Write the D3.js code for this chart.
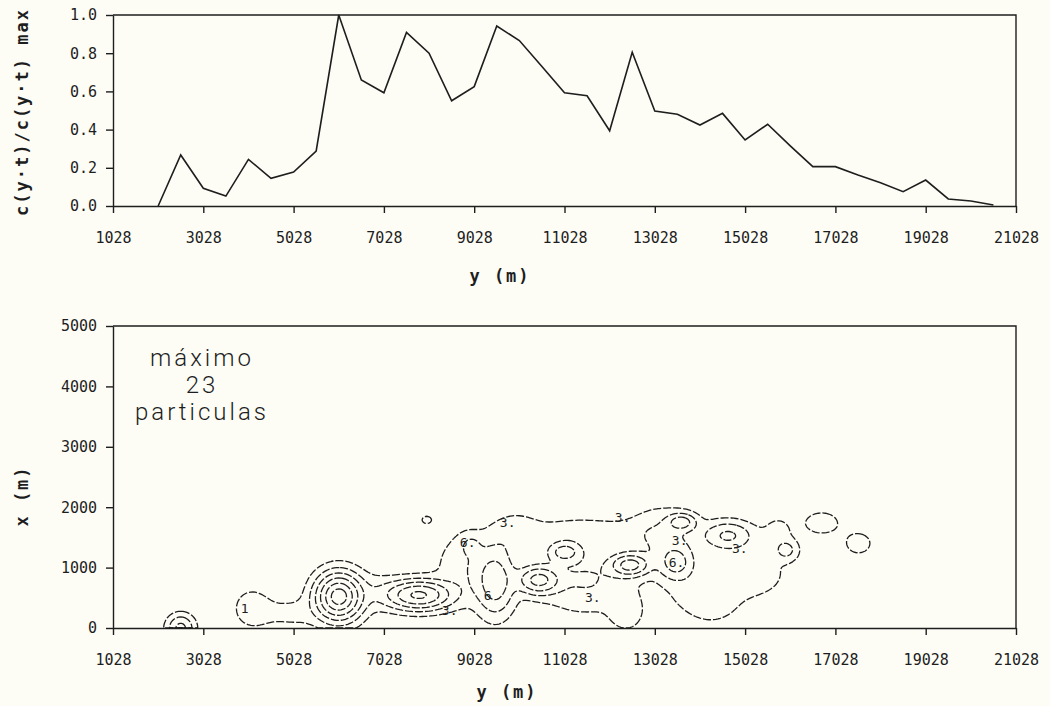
<html>
<script src="https://d3js.org/d3.v7.min.js"></script>
<style>
  body {margin:0; background:#fdfdf6;}
  svg {display:block;}
  text {font-family:"DejaVu Sans Mono", monospace; fill:#1e1e1e;}
  .axis text {font-size:15px;}
  .axis path, .axis line {stroke:#1e1e1e; stroke-width:1.4;}
  .title {font-size:17px; font-weight:bold; letter-spacing:2px;}
  .note {font-family:Roboto, "DejaVu Sans", sans-serif; font-weight:300; font-size:24px; letter-spacing:3px;}
  .clab {font-size:13px;}
</style>
<body>
<svg width=1050 height=706></svg>
<script>
// ---- top panel: c(y,t)/c(y,t)max along y
const profY = [2028, 2528, 3028, 3528, 4028, 4528, 5028, 5528, 6028, 6528, 7028, 7528, 8028, 8528,
  9028, 9528, 10028, 10528, 11028, 11528, 12028, 12528, 13028, 13528, 14028, 14528, 15028, 15528,
  16028, 16528, 17028, 17528, 18028, 18528, 19028, 19528, 20028, 20528];
const profC = [0.0, 0.267, 0.093, 0.052, 0.244, 0.145, 0.178, 0.288, 1.0, 0.66, 0.593, 0.909, 0.80, 0.551,
  0.625, 0.942, 0.866, 0.73, 0.593, 0.577, 0.394, 0.805, 0.497, 0.48, 0.424, 0.485, 0.346, 0.428,
  0.315, 0.206, 0.206, 0.162, 0.122, 0.075, 0.136, 0.037, 0.026, 0.005];
const yTickVals = [1028, 3028, 5028, 7028, 9028, 11028, 13028, 15028, 17028, 19028, 21028];
const cTickVals = [0, 0.2, 0.4, 0.6, 0.8, 1.0];
const xTickVals = [0, 1000, 2000, 3000, 4000, 5000];

// ---- bottom panel: particle clusters (y, x in m, peak count, spread y, spread x)
const clY  = [2528, 6030, 7800, 9500, 10450, 11030, 12480, 13620, 13500, 14650, 15940, 16725, 17540, 7976,
  4100, 5000, 8900, 9950, 11500, 11400, 12400, 13200, 14300, 15100, 15750, 13900, 6900, 8950];
const clX  = [0, 520, 545, 760, 795, 1258, 1043, 1755, 1076, 1530, 1290, 1740, 1400, 1790,
  330, 250, 1000, 1550, 800, 1600, 250, 1500, 420, 900, 1600, 600, 600, 1380];
const clN  = [7, 23, 16, 8, 11, 7, 11.5, 7, 7, 6.5, 3.6, 1.7, 1.6, 1.4,
  1.8, 1.4, 2.6, 2.4, 3.2, 2.0, 2.0, 3.5, 1.7, 2.0, 1.4, 1.3, 1.6, 2.2];
const clSy = [190, 310, 440, 260, 288, 240, 261, 200, 250, 350, 170, 330, 260, 120,
  296, 500, 450, 350, 700, 800, 250, 500, 380, 600, 250, 500, 350, 160];
const clSx = [140, 238, 150, 340, 144, 108, 113, 90, 180, 150, 110, 160, 160, 70,
  237, 180, 380, 220, 350, 150, 200, 300, 230, 300, 200, 250, 200, 120];
const levels = [1, 3, 6, 10, 15, 20];
const labTxt = ["1", "3.", "3.", "3.", "3.", "3.", "3.", "6.", "6.", "6"];
const labY   = [3945, 9770, 11653, 12317, 13579, 14909, 8485, 13511, 8884, 9327];
const labX   = [331, 1755, 513, 1838, 1457, 1325, 298, 1093, 1424, 546];

const svg = d3.select('svg');
const xs = d3.scaleLinear().domain([1028, 21028]).range([113, 1016]);
const cs = d3.scaleLinear().domain([0, 1]).range([206, 15]);
const xb = d3.scaleLinear().domain([0, 5000]).range([628, 326]);

function frame(top, bottom) {
  svg.append('path')
    .attr('d', `M113,${top}H1016V${bottom}`)
    .attr('fill', 'none').attr('stroke', '#1e1e1e').attr('stroke-width', 1.4);
}

// top panel
frame(15, 206);
svg.append('g').attr('class', 'axis')
  .attr('transform', 'translate(0,206)')
  .call(d3.axisBottom(xs).tickValues(yTickVals).tickSize(7).tickSizeOuter(0).tickPadding(19).tickFormat(d3.format('d')));
svg.append('g').attr('class', 'axis')
  .attr('transform', 'translate(113,0)')
  .call(d3.axisLeft(cs).tickValues(cTickVals).tickSize(7).tickSizeOuter(0).tickPadding(9).tickFormat(d3.format('.1f')));
svg.append('path')
  .datum(profY.map((d, i) => [d, profC[i]]))
  .attr('fill', 'none').attr('stroke', '#1e1e1e').attr('stroke-width', 1.6)
  .attr('d', d3.line().x(d => xs(d[0])).y(d => cs(d[1])));
svg.append('text').attr('class', 'title')
  .attr('transform', 'translate(28,112) rotate(-90)').style('text-anchor', 'middle')
  .text('c(y·t)/c(y·t) max');
svg.append('text').attr('class', 'title')
  .attr('x', 500).attr('y', 282).style('text-anchor', 'middle').text('y (m)');

// bottom panel
frame(326, 628);
svg.append('g').attr('class', 'axis')
  .attr('transform', 'translate(0,628)')
  .call(d3.axisBottom(xs).tickValues(yTickVals).tickSize(7).tickSizeOuter(0).tickPadding(19).tickFormat(d3.format('d')));
svg.append('g').attr('class', 'axis')
  .attr('transform', 'translate(113,0)')
  .call(d3.axisLeft(xb).tickValues(xTickVals).tickSize(7).tickSizeOuter(0).tickPadding(9).tickFormat(d3.format('d')));
svg.append('text').attr('class', 'title')
  .attr('transform', 'translate(28,496) rotate(-90)').style('text-anchor', 'middle')
  .text('x (m)');
svg.append('text').attr('class', 'title')
  .attr('x', 507).attr('y', 698).style('text-anchor', 'middle').text('y (m)');

['máximo', '23', 'particulas'].forEach((t, i) => {
  svg.append('text').attr('class', 'note')
    .attr('x', 202).attr('y', [366, 393, 420][i]).style('text-anchor', 'middle').text(t);
});

// particle count field on a grid, then contour lines
const gY0 = 1028, gDy = 50, gDx = 25, nx = 401, ny = 101;
const grid = new Float64Array(nx * ny);
for (let j = 0; j < ny; j++) {
  for (let i = 0; i < nx; i++) {
    const y = gY0 + i * gDy, x = j * gDx;
    let v = 0;
    for (let k = 0; k < clY.length; k++) {
      const a = (y - clY[k]) / clSy[k], b = (x - clX[k]) / clSx[k];
      v += clN[k] * Math.exp(-0.5 * (a * a + b * b));
    }
    grid[j * nx + i] = v;
  }
}
const proj = d3.geoTransform({
  point: function(gx, gy) {
    const ym = gY0 + (gx - 0.5) * gDy;
    const xm = Math.max(0, (gy - 0.5) * gDx);
    this.stream.point(xs(ym), xb(xm));
  }
});
const cpath = d3.geoPath(proj);
svg.append('g')
  .selectAll('path')
  .data(d3.contours().size([nx, ny]).thresholds(levels)(grid))
  .enter()
  .append('path')
  .attr('d', cpath)
  .attr('fill', 'none').attr('stroke', '#1e1e1e').attr('stroke-width', 1.3)
  .attr('stroke-dasharray', '8,2');

svg.append('g')
  .selectAll('text')
  .data(labTxt)
  .enter()
  .append('text').attr('class', 'clab')
  .attr('x', (d, i) => xs(labY[i])).attr('y', (d, i) => xb(labX[i]) + 5)
  .style('text-anchor', 'middle')
  .text(d => d);
</script>
</body>
</html>
